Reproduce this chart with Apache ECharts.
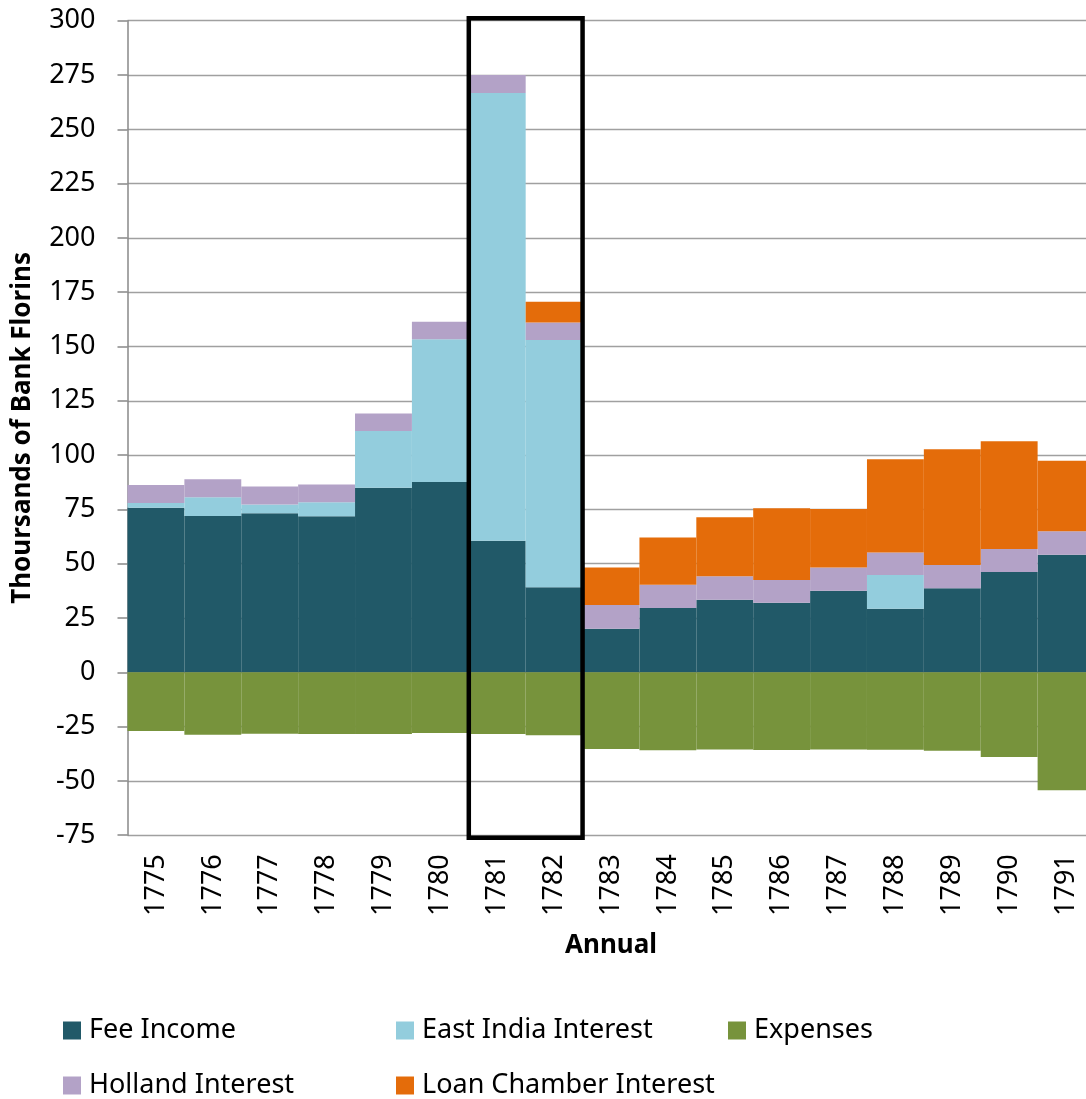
<!DOCTYPE html>
<html>
<head>
<meta charset="utf-8">
<script src="https://cdn.jsdelivr.net/npm/echarts@6/dist/echarts.min.js"></script>
<style>
html,body{margin:0;padding:0;background:#fff;}
#main{width:1086px;height:1099px;}
</style>
</head>
<body>
<div id="main"></div>
<script>
const years = ['1775','1776','1777','1778','1779','1780','1781','1782','1783','1784','1785','1786','1787','1788','1789','1790','1791'];
const feeIncome = [75.8, 72.0, 73.2, 71.8, 85.0, 87.6, 60.6, 39.2, 20.1, 29.6, 33.4, 32.0, 37.6, 29.3, 38.7, 46.2, 54.1];
const eastIndiaInterest = [2.1, 8.6, 4.1, 6.5, 26.1, 65.7, 206.1, 113.8, 0, 0, 0, 0, 0, 15.5, 0, 0, 0];
const hollandInterest = [8.3, 8.3, 8.2, 8.2, 8.1, 8.1, 8.3, 8.1, 10.9, 10.7, 10.8, 10.5, 10.7, 10.3, 10.7, 10.6, 10.8];
const loanChamberInterest = [0, 0, 0, 0, 0, 0, 0, 9.5, 17.2, 21.8, 27.2, 33.0, 26.9, 43.0, 53.3, 49.6, 32.5];
const expenses = [-27.0, -28.7, -28.3, -28.4, -28.4, -27.9, -28.4, -29.0, -35.3, -35.9, -35.5, -35.8, -35.5, -35.7, -36.1, -39.0, -54.3];
const highlightYears = ['1781', '1782'];
const yMin = -75, yMax = 300, yStep = 25;

const FONT = '"Noto Sans", "Open Sans", sans-serif';
const colors = {
  fee: '#215968', ei: '#93CDDD', exp: '#77933C', hol: '#B3A2C7', loan: '#E46C0A'
};

const chart = echarts.init(document.getElementById('main'));

function bar(name, data, color) {
  return {
    name: name, type: 'bar', stack: 'total', data: data,
    barCategoryGap: '0%',
    itemStyle: { color: color },
    emphasis: { disabled: true },
    animation: false
  };
}

function legend(name, left, top) {
  return {
    data: [name], left: left, top: top,
    icon: 'rect', itemWidth: 18, itemHeight: 18,
    selectedMode: false,
    textStyle: { fontFamily: FONT, fontSize: 27, color: '#000', padding: [0, 0, 0, 3] }
  };
}

chart.setOption({
  animation: false,
  grid: { left: 127.5, top: 20.7, width: 967, height: 814.5, containLabel: false, outerBoundsMode: 'none' },
  legend: [
    legend('Fee Income', 58, 1012),
    legend('East India Interest', 391, 1012),
    legend('Expenses', 723, 1012),
    legend('Holland Interest', 58, 1067),
    legend('Loan Chamber Interest', 391, 1067)
  ],
  xAxis: {
    type: 'category', data: years, boundaryGap: true,
    name: 'Annual', nameLocation: 'middle', nameGap: 97,
    nameTextStyle: { fontFamily: FONT, fontSize: 26, fontWeight: 'bold', color: '#000' },
    axisLine: { show: true, lineStyle: { color: '#999', width: 1.3 } },
    axisTick: { show: false },
    axisLabel: { rotate: 90, margin: 19, fontFamily: FONT, fontSize: 27, color: '#000' }
  },
  yAxis: {
    type: 'value', min: yMin, max: yMax, interval: yStep,
    name: 'Thoursands of Bank Florins', nameLocation: 'middle', nameGap: 92,
    nameTextStyle: { fontFamily: FONT, fontSize: 26, fontWeight: 'bold', color: '#000' },
    axisLine: { show: true, lineStyle: { color: '#888', width: 1.5 } },
    axisTick: { show: true, length: 10, lineStyle: { color: '#888', width: 1.5 } },
    axisLabel: { margin: 32, fontFamily: FONT, fontSize: 27, color: '#000' },
    splitLine: { show: true, lineStyle: { color: '#a0a0a0', width: 1.3 } }
  },
  series: [
    bar('Fee Income', feeIncome, colors.fee),
    bar('East India Interest', eastIndiaInterest, colors.ei),
    bar('Holland Interest', hollandInterest, colors.hol),
    bar('Loan Chamber Interest', loanChamberInterest, colors.loan),
    bar('Expenses', expenses, colors.exp)
  ]
});

// highlight box around 1781-1782, positioned through the axes
const c1 = chart.convertToPixel({ gridIndex: 0 }, [highlightYears[0], yMax]);
const c2 = chart.convertToPixel({ gridIndex: 0 }, [highlightYears[1], yMin]);
const bw = chart.convertToPixel({ xAxisIndex: 0 }, years[1]) - chart.convertToPixel({ xAxisIndex: 0 }, years[0]);
const x0 = c1[0] - bw / 2, x1 = c2[0] + bw / 2;
chart.setOption({
  graphic: [{
    type: 'rect', z: 100,
    shape: { x: x0, y: c1[1] - 2.5, width: x1 - x0, height: (c2[1] + 2.5) - (c1[1] - 2.5) },
    style: { fill: 'none', stroke: '#000', lineWidth: 4.5 }
  }]
});
</script>
</body>
</html>
